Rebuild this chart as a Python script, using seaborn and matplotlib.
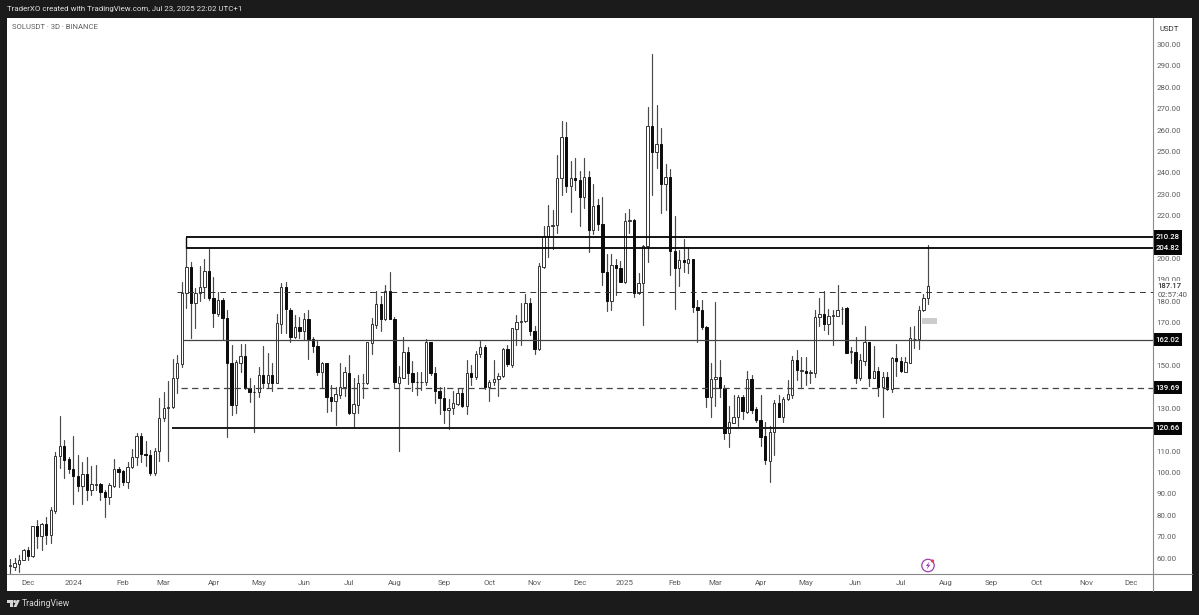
import numpy as np
import pandas as pd
import seaborn as sns
import matplotlib
matplotlib.use("Agg")
import matplotlib.pyplot as plt
from matplotlib.lines import Line2D
from matplotlib.patches import Rectangle, Circle, Polygon
from matplotlib.transforms import Affine2D, blended_transform_factory

# ---------- data ----------
first_bar = "2023-11-20"
n_future_bars = 52

opens = [
56.5,56.0,57.2,59.2,63.6,61.1,74.8,70.2,75.8,70.8,
81.8,107.7,112.4,106.1,101.8,98.4,93.7,99.3,91.8,94.2,
94.5,91.0,88.5,93.8,101.5,100.7,95.4,102.6,107.4,117.0,
108.6,108.2,99.7,109.9,125.3,130.0,130.7,144.0,150.7,183.7,
195.9,179.0,183.7,186.5,194.3,181.4,174.0,180.6,172.3,151.0,
131.5,151.0,154.6,139.3,137.8,137.4,145.8,142.0,145.5,142.0,
169.2,186.5,175.9,163.5,168.1,166.1,171.6,162.4,158.9,147.1,
151.3,135.4,133.4,136.2,139.8,146.6,127.6,131.5,141.6,141.6,
160.6,168.9,178.7,171.7,184.8,171.7,142.0,144.3,156.1,146.3,
142.4,142.2,142.4,160.8,146.6,138.1,135.0,129.0,130.0,132.0,
137.3,131.2,146.6,144.8,155.4,158.5,139.8,142.1,143.5,145.2,
157.7,150.2,167.0,170.5,170.8,179.3,166.1,157.7,196.2,210.5,
215.2,215.6,237.7,256.9,233.8,237.7,236.7,228.9,237.9,213.3,
224.8,216.1,193.5,180.3,197.2,195.4,189.2,217.6,218.0,184.0,
188.4,205.8,261.9,249.9,253.3,234.8,238.2,203.5,195.8,199.3,
197.7,199.6,177.5,176.0,167.9,135.2,143.6,144.8,139.4,118.3,
123.3,126.1,135.5,128.3,143.6,129.7,124.6,117.1,105.6,119.1,
132.4,126.1,134.2,136.3,152.6,147.6,147.6,146.6,146.6,172.5,
174.0,169.2,173.3,173.3,176.4,176.7,156.4,156.4,144.0,152.2,
160.8,144.3,147.4,139.8,144.5,138.8,153.3,152.1,147.1,151.3,
162.2,162.2,175.9,181.4]

closes = [
56.8,57.5,59.2,63.6,61.1,74.8,70.2,75.8,70.8,82.3,
107.9,112.4,105.8,101.6,98.4,93.7,99.3,92.0,94.5,94.5,
91.0,88.5,94.2,101.5,100.4,95.4,102.7,107.4,117.0,108.6,
108.0,99.6,110.0,125.6,130.0,130.7,144.1,151.0,184.0,195.9,
179.3,184.0,186.5,194.3,181.4,174.4,180.6,172.3,151.0,131.5,
151.5,154.6,139.3,137.8,137.5,145.8,142.0,145.5,142.0,169.7,
186.5,176.2,163.5,168.1,166.1,171.6,162.4,159.1,147.1,151.3,
135.4,133.4,136.7,139.8,146.8,127.6,131.8,142.0,142.0,160.8,
169.2,178.7,171.7,184.8,171.7,142.4,144.5,156.1,146.3,142.4,
142.2,142.4,160.8,146.3,138.1,135.0,129.2,130.3,132.3,137.3,
131.2,146.6,144.8,155.4,158.5,139.8,142.4,143.7,145.2,157.7,
150.5,167.3,170.5,170.8,179.3,166.1,157.7,196.5,210.5,215.2,
215.6,237.7,256.9,233.8,237.7,236.7,228.9,237.9,213.3,224.7,
216.1,193.5,180.3,197.2,195.4,189.2,217.6,218.0,184.0,188.4,
205.8,261.9,249.9,253.3,234.8,238.2,203.5,195.8,199.3,198.3,
199.6,177.5,176.0,167.9,135.5,143.6,144.8,139.4,118.3,123.5,
126.1,135.5,128.8,143.6,129.3,124.6,116.8,105.9,119.1,132.4,
126.1,134.2,136.6,152.6,148.0,147.8,146.6,146.8,172.5,174.0,
169.2,173.1,173.5,175.9,176.6,156.0,156.6,144.0,152.6,161.1,
144.3,147.4,139.8,144.5,139.0,153.3,152.1,147.6,151.5,162.7,
162.6,175.9,181.4,187.17]

highs = [
59.6,59.9,61.4,64.1,65.3,75.0,77.6,76.5,79.3,84.0,
109.7,126.2,115.2,107.4,116.9,108.2,104.9,107.2,103.0,103.5,
94.9,91.8,94.9,106.1,102.7,101.2,104.7,110.8,118.3,118.3,
114.9,110.5,111.3,134.6,137.7,142.6,152.9,154.9,189.2,204.7,
198.5,186.0,196.5,200.0,204.4,191.5,184.5,181.4,175.9,159.6,
152.5,159.9,159.9,144.0,140.9,149.1,159.1,155.7,151.0,174.0,
188.4,188.8,176.7,173.6,172.5,174.4,175.9,163.5,161.4,151.8,
151.3,140.9,140.1,151.0,149.4,154.9,144.0,145.5,146.0,161.1,
172.0,185.0,182.5,187.6,193.8,172.8,149.7,163.5,158.8,152.2,
147.1,146.8,162.2,161.1,149.4,139.8,139.8,134.2,138.1,139.3,
139.3,152.5,150.2,156.9,161.6,159.6,143.2,152.5,146.6,158.0,
159.6,167.7,173.6,179.0,183.4,181.4,168.6,198.0,215.3,225.0,
222.6,248.3,264.2,263.9,245.5,246.8,240.9,246.8,241.0,234.6,
227.8,228.9,201.9,201.9,199.6,199.0,221.1,223.0,218.4,193.0,
206.3,270.6,295.5,271.7,260.8,244.4,241.8,220.0,203.9,208.9,
205.5,200.0,180.7,180.7,168.5,151.0,179.9,152.6,140.9,131.1,
136.3,136.3,136.3,147.6,145.6,130.8,136.3,123.8,121.5,133.9,
136.0,135.5,143.0,154.5,157.2,154.1,154.1,147.9,175.9,181.4,
184.8,176.4,175.9,187.6,177.2,177.2,158.8,163.5,155.2,168.4,
161.1,159.1,149.4,147.1,147.1,154.1,160.0,154.1,154.1,168.1,
168.6,177.8,183.4,206.3]

lows = [
52.9,54.4,53.6,59.1,59.1,60.7,64.6,63.8,66.6,67.2,
80.9,102.2,97.3,99.6,85.1,91.5,85.4,87.1,89.5,91.8,
87.1,79.0,85.1,93.4,93.4,94.1,92.9,102.2,103.5,105.0,
103.0,98.8,98.8,105.5,124.0,105.2,130.0,137.0,149.4,176.7,
162.7,167.7,180.3,181.4,180.6,167.8,173.1,161.9,116.4,126.7,
128.0,147.1,138.8,133.1,118.8,135.4,139.3,139.3,138.1,141.6,
165.0,165.3,161.1,162.7,162.7,161.9,152.9,156.4,145.5,139.3,
128.4,128.7,122.2,134.6,135.9,127.3,121.1,127.6,134.6,141.3,
155.4,167.3,166.3,171.2,171.6,140.1,110.2,144.0,141.3,138.1,
136.2,138.5,140.9,145.5,132.3,127.2,123.0,120.2,127.2,131.5,
130.7,127.3,140.9,143.5,154.1,138.8,133.5,140.9,135.7,144.8,
149.9,149.4,159.6,159.6,170.5,164.2,155.4,157.2,195.4,200.8,
204.4,211.7,229.6,231.2,221.9,232.0,215.3,223.4,203.2,211.4,
213.3,187.6,175.6,175.9,182.9,188.8,188.4,211.7,182.1,183.2,
168.9,198.5,229.6,242.4,221.1,222.6,192.3,176.2,187.1,193.8,
193.0,175.1,160.9,167.0,130.8,126.1,131.1,135.2,115.5,112.1,
123.0,121.9,125.0,128.0,128.0,123.8,112.4,104.0,95.6,108.2,
125.8,123.8,133.9,135.0,143.0,140.1,140.9,141.6,144.8,168.6,
166.6,164.7,159.6,173.1,169.4,155.7,151.0,141.6,143.2,150.2,
140.4,144.0,135.9,126.1,138.5,137.4,145.2,147.1,146.8,151.0,
158.0,157.5,175.6,178.7]

level_box = [210.28, 204.82]
level_solid = 162.02
level_thick = 120.66
level_dash_low = 139.69
level_dash_high = 184.2
boxed_labels = [210.28, 204.82, 162.02, 139.69, 120.66]
price_ticks = [60, 70, 80, 90, 100, 110, 130, 150, 170, 180, 190, 200, 220, 230, 240, 250, 260, 270, 280, 290, 300]
last_price = 187.17
countdown = "02:57:40"
header = "TraderXO created with TradingView.com, Jul 23, 2025 22:02 UTC+1"
symbol = "SOLUSDT · 3D · BINANCE"

# ---------- setup ----------
sns.set_theme(style="white")
plt.rcParams["font.family"] = ["Roboto", "DejaVu Sans"]
DARK = "#1b1b1b"
GREY = "#5c5c5c"
W, H = 1199, 615
fig = plt.figure(figsize=(W / 100, H / 100), dpi=100, facecolor=DARK)
px = Affine2D().scale(1, -1).translate(0, H)  # figure pixels, y down

fig.add_artist(Rectangle((6.5, 17.5), 1185.5, 573.5, transform=px, fc="white", ec="none", zorder=-1))

ax = fig.add_axes([6.5 / W, 1 - 574 / H, 1146 / W, 556 / H], facecolor="white")

df = pd.DataFrame({"open": opens, "high": highs, "low": lows, "close": closes})
df["bar"] = np.arange(len(df))
df["base"] = df[["open", "close"]].min(axis=1)
df["body"] = (df["open"] - df["close"]).abs()
up = df[df["close"] >= df["open"]]
down = df[df["close"] < df["open"]]

wicks = df.melt(id_vars="bar", value_vars=["low", "high"], value_name="price").sort_values("bar")
sns.lineplot(data=wicks, x="bar", y="price", units="bar", estimator=None, sort=False,
             color="#4a4a4a", lw=0.85, zorder=1, ax=ax, legend=False)
sns.barplot(data=up, x="bar", y="body", bottom=up["base"].to_numpy(), native_scale=True, width=0.52,
            color="white", saturation=1, edgecolor="#333333", linewidth=0.7, errorbar=None, zorder=2, ax=ax)
sns.barplot(data=down, x="bar", y="body", bottom=down["base"].to_numpy(), native_scale=True, width=0.52,
            color="#0c0c0c", saturation=1, edgecolor="#0c0c0c", linewidth=0.7, errorbar=None, zorder=2, ax=ax)

x_left, x_right = -0.774, 252.66
ax.set_xlim(x_left, x_right)
ax.set_ylim(52.57, 312.4)
ax.set_xlabel("")
ax.set_ylabel("")

# ---------- drawn levels ----------
box_start = 39
for v in level_box:
    ax.hlines(v, box_start, x_right, color="#0a0a0a", lw=1.35, zorder=3)
ax.vlines(box_start, level_box[1], level_box[0], color="#0a0a0a", lw=1.0, zorder=3)
ax.hlines(level_solid, 38.3, x_right, color="#444444", lw=0.9, zorder=3)
ax.hlines(level_thick, 35.8, x_right, color="#1a1a1a", lw=1.4, zorder=3)
ax.plot([36.9, x_right], [level_dash_high] * 2, color="#333333", lw=0.7, ls=(0, (6, 5)), zorder=3)
ax.plot([37.8, x_right], [level_dash_low] * 2, color="#444444", lw=0.9, ls=(0, (5, 3.5)), zorder=3)
ax.add_patch(Rectangle((201.7, 169.3), 3.2, 3.1, fc="#cccccc", ec="none", zorder=3))

# ---------- axes ----------
for s in ["left", "top", "right", "bottom"]:
    ax.spines[s].set_visible(False)
ax.yaxis.tick_right()
ax.set_yticks(price_ticks)
ax.set_yticklabels([f"{v:.2f}" for v in price_ticks])
ax.tick_params(axis="y", length=0, pad=3.1, labelsize=5.7, labelcolor=GREY, right=False, left=False)

bar_dates = pd.date_range(first_bar, periods=len(df) + n_future_bars, freq="3D")
tick_pos, tick_lab = [], []
for m in pd.date_range("2023-12-01", "2025-12-01", freq="MS"):
    pos = int(np.searchsorted(bar_dates, m))
    tick_pos.append(pos)
    tick_lab.append(str(m.year) if m.month == 1 else m.strftime("%b"))
ax.set_xticks(tick_pos)
ax.set_xticklabels(tick_lab)
ax.tick_params(axis="x", length=0, pad=4.3, labelsize=5.7, labelcolor=GREY, bottom=False)

fig.add_artist(Line2D([6.5, 1192], [574, 574], transform=px, color="#8a8a8a", lw=0.8, zorder=4))
fig.add_artist(Line2D([1152.5, 1152.5], [17.5, 591], transform=px, color="#8a8a8a", lw=0.8, zorder=4))

# ---------- price labels ----------
pd_tr = blended_transform_factory(px, ax.transData)
unit = 1 / 2.14  # price units per pixel
for v in boxed_labels:
    ax.add_patch(Rectangle((1153, v - 6.3 * unit), 28.5, 12.6 * unit, transform=pd_tr, fc="#050505", ec="none",
                           clip_on=False, zorder=6))
    ax.text(1167.3, v, f"{v:.2f}", transform=pd_tr, color="white", fontsize=5.6, fontweight="medium", ha="center",
            va="center", clip_on=False, zorder=7)
ax.add_patch(Rectangle((1153.2, last_price - 13.0 * unit), 38, 18.4 * unit, transform=pd_tr, fc="white", ec="none",
                       clip_on=False, zorder=6))
ax.text(1157.5, last_price, f"{last_price:.2f}", transform=pd_tr, color="#333333", fontsize=5.6, fontweight="medium",
        ha="left", va="center", clip_on=False, zorder=7)
ax.text(1157.5, last_price - 8.7 * unit, countdown, transform=pd_tr, color="#555555", fontsize=5.6, ha="left",
        va="center", clip_on=False, zorder=7)

# ---------- chrome text ----------
fig.text(7, H - 9, header, transform=None, color="#e2e2e2", fontsize=5.65, va="center", ha="left")
fig.text(12, H - 27, symbol, transform=None, color=GREY, fontsize=5.5, va="center", ha="left")
fig.text(1169, H - 29, "USDT", transform=None, color="#333333", fontsize=5.7, va="center", ha="center", zorder=8)
fig.text(22, H - 603.5, "TradingView", transform=None, color="#d6d6d6", fontsize=6.2, va="center", ha="left")

# TradingView mark
logo = "#d6d6d6"
fig.add_artist(Polygon([(7, 600), (13, 600), (13, 607), (10, 607), (10, 603), (7, 603)], closed=True, transform=px,
                       fc=logo, ec="none", zorder=5))
fig.add_artist(Circle((14.7, 601.5), 1.5, transform=px, fc=logo, ec="none", zorder=5))
fig.add_artist(Polygon([(16.8, 600), (19.8, 600), (16.5, 607), (13.4, 607)], closed=True, transform=px,
                       fc=logo, ec="none", zorder=5))

# Lightning badge
fig.add_artist(Circle((928, 565.5), 6.2, transform=px, fc="white", ec="#9c3fb0", lw=0.9, zorder=5))
fig.add_artist(Polygon([(929.5, 561.5), (925.8, 566), (928, 566), (926.6, 569.5), (930.4, 564.8), (928.2, 564.8)],
                       closed=True, transform=px, fc="#9c3fb0", ec="none", zorder=6))
fig.add_artist(Circle((932.5, 561), 1.6, transform=px, fc="#e5404a", ec="none", zorder=7))

fig.savefig("out.png", dpi=100, facecolor=fig.get_facecolor())
